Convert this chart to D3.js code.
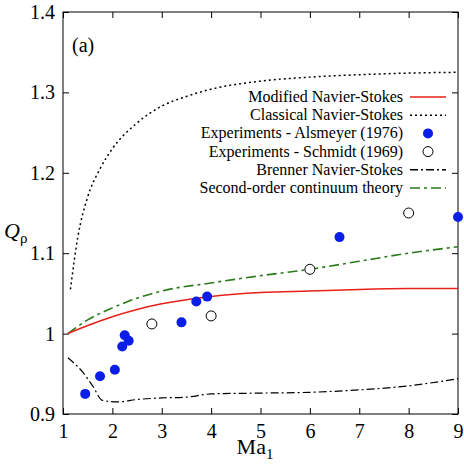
<!DOCTYPE html><html><head><script src="https://cdn.jsdelivr.net/npm/d3@7"></script>
<style>body{margin:0}text{font-family:"Liberation Serif",serif}</style></head><body><svg width="464" height="466"></svg>
<script>
const xTicks=[1,2,3,4,5,6,7,8,9];
const yTicks=[0.9,1,1.1,1.2,1.3,1.4];
const yTickLabels=["0.9","1","1.1","1.2","1.3","1.4"];
const modifiedNS=[[1.1,1.0],[1.5,1.01],[2,1.021],[2.5,1.03],[3,1.037],[3.5,1.042],[4,1.046],[5,1.051],[6,1.053],[7,1.055],[8,1.056],[9,1.056]];
const classicalNS=[[1.15,1.055],[1.3,1.12],[1.5,1.17],[1.75,1.205],[2,1.23],[2.5,1.262],[3,1.283],[3.5,1.295],[4,1.304],[5,1.314],[6,1.319],[7,1.322],[8,1.324],[9,1.325]];
const alsmeyer=[[1.45,0.925],[1.75,0.947],[2.05,0.955],[2.2,0.984],[2.25,0.998],[2.33,0.991],[3.4,1.014],[3.7,1.04],[3.92,1.046],[6.6,1.12],[9,1.145]];
const schmidt=[[2.8,1.012],[4.0,1.022],[6.0,1.08],[8.0,1.15]];
const brennerNS=[[1.1,0.97],[1.4,0.952],[1.6,0.935],[1.8,0.917],[2.1,0.915],[2.5,0.918],[3,0.92],[3.5,0.921],[4,0.925],[5,0.926],[6,0.927],[7,0.93],[8,0.935],[9,0.944]];
const secondOrder=[[1.1,1.0],[1.5,1.017],[2,1.032],[2.5,1.044],[3,1.053],[4,1.063],[5,1.072],[6,1.08],[7,1.09],[8,1.1],[9,1.108]];
const L=63,R=458,T=12,B=414;
const svg=d3.select("svg");
const x=d3.scaleLinear().domain([1,9]).range([L,R]);
const y=d3.scaleLinear().domain([0.9,1.4]).range([B,T]);
svg.append("rect").attr("x",L).attr("y",T).attr("width",R-L).attr("height",B-T).attr("fill","none").attr("stroke","#000");
const ax=svg.append("g").attr("transform",`translate(0,${B})`).call(d3.axisBottom(x).tickValues(xTicks).tickSize(-6).tickPadding(10).tickFormat(d3.format("d")));
const at=svg.append("g").attr("transform",`translate(0,${T})`).call(d3.axisTop(x).tickValues(xTicks).tickSize(-6).tickFormat(""));
const ay=svg.append("g").attr("transform",`translate(${L},0)`).call(d3.axisLeft(y).tickValues(yTicks).tickSize(-6).tickPadding(8).tickFormat((d,i)=>yTickLabels[i]));
const ar=svg.append("g").attr("transform",`translate(${R},0)`).call(d3.axisRight(y).tickValues(yTicks).tickSize(-6).tickFormat(""));
[ax,at,ay,ar].forEach(g=>{g.select(".domain").remove();g.selectAll("text").attr("font-size",20).attr("font-family","Liberation Serif");});
const line=d3.line().x(d=>x(d[0])).y(d=>y(d[1])).curve(d3.curveMonotoneX);
const series=[
 {d:classicalNS,c:"#000",dash:"2,3",w:1.5},
 {d:brennerNS,c:"#000",dash:"8,3,2,3",w:1.2},
 {d:secondOrder,c:"#2a7a1a",dash:"10,4,3,4",w:1.6},
 {d:modifiedNS,c:"#e8201a",dash:null,w:1.5}];
series.forEach(s=>svg.append("path").attr("d",line(s.d)).attr("fill","none").attr("stroke",s.c).attr("stroke-width",s.w).attr("stroke-dasharray",s.dash));
svg.selectAll(".a").data(alsmeyer).enter().append("circle").attr("cx",d=>x(d[0])).attr("cy",d=>y(d[1])).attr("r",5).attr("fill","#0a1ee8");
svg.selectAll(".s").data(schmidt).enter().append("circle").attr("cx",d=>x(d[0])).attr("cy",d=>y(d[1])).attr("r",5).attr("fill","#fff").attr("stroke","#000").attr("stroke-width",1);
const leg=[["Modified Navier-Stokes","line","#e8201a",null],["Classical Navier-Stokes","line","#000","2,3"],["Experiments - Alsmeyer (1976)","fill","#0a1ee8"],["Experiments - Schmidt (1969)","open","#000"],["Brenner Navier-Stokes","line","#000","8,3,2,3"],["Second-order continuum theory","line","#2a7a1a","10,4,3,4"]];
leg.forEach((l,i)=>{const yy=97+i*18.2;
 svg.append("text").attr("x",403).attr("y",yy+5).attr("text-anchor","end").attr("font-size",16).text(l[0]);
 if(l[1]=="line")svg.append("line").attr("x1",410).attr("x2",446).attr("y1",yy).attr("y2",yy).attr("stroke",l[2]).attr("stroke-width",1.5).attr("stroke-dasharray",l[3]);
 else svg.append("circle").attr("cx",428).attr("cy",yy).attr("r",5).attr("fill",l[1]=="fill"?l[2]:"#fff").attr("stroke",l[1]=="open"?"#000":"none");
});
svg.append("text").attr("x",72).attr("y",52).attr("font-size",20).text("(a)");
const yl=svg.append("text").attr("x",4).attr("y",238).attr("font-size",22);
yl.append("tspan").attr("font-style","italic").text("Q");yl.append("tspan").attr("font-size",15).attr("dy",5).text("ρ");
const xl=svg.append("text").attr("x",255).attr("y",454).attr("text-anchor","middle").attr("font-size",22);
xl.append("tspan").text("Ma");xl.append("tspan").attr("font-size",15).attr("dy",5).text("1");
</script></body></html>
